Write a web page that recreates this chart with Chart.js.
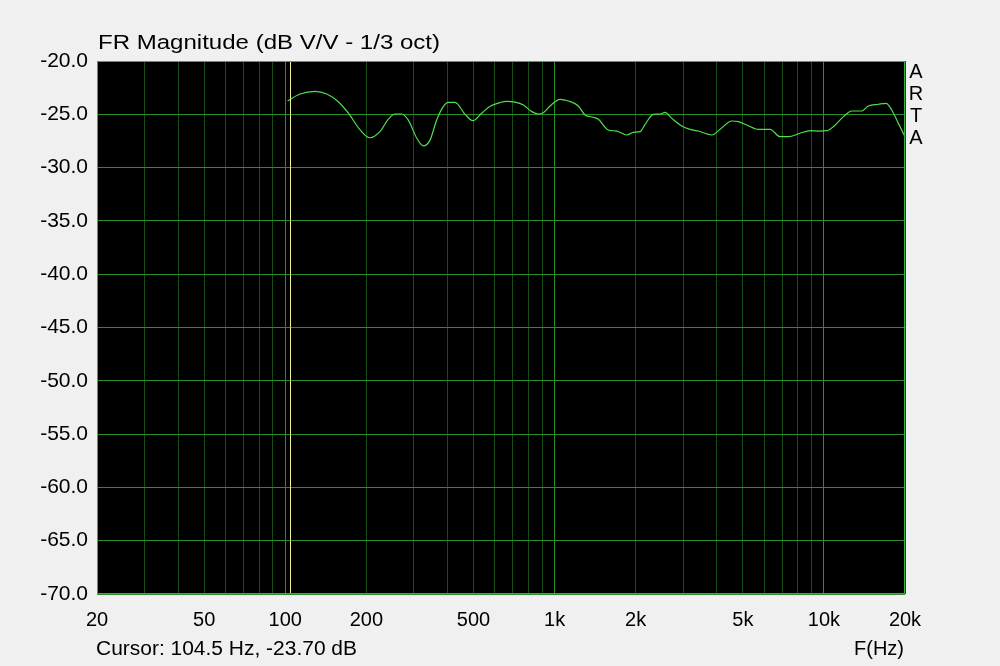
<!DOCTYPE html>
<html lang="en">
<head>
  <meta charset="UTF-8">
  <title>FR Magnitude</title>
  <script src="https://cdn.jsdelivr.net/npm/chart.js@4.4.1/dist/chart.umd.min.js"></script>
  <style>
    * { margin: 0; padding: 0; box-sizing: border-box; }
    body { background: #f0f0f0; width: 1000px; height: 666px; overflow: hidden; }
    #wrap { position: relative; width: 1000px; height: 666px; }
  </style>
</head>
<body>
  <div id="wrap"><canvas id="fr"></canvas></div>

  <script>
    // measured response, 1/3 octave smoothed
    const freqs = [102, 113.5, 129, 142.6, 157, 171.6, 189.7, 206, 225, 241, 255.8, 270.7, 286, 308, 325.6,
      345, 365, 386, 403, 427, 465, 497, 536, 576, 627, 664, 713, 766, 823, 871, 908, 962, 1048, 1125,
      1225, 1298, 1393, 1454, 1583, 1702, 1854, 1962, 2076, 2168, 2327, 2464, 2572, 2724, 2967, 3184,
      3420, 3835, 4116, 4548, 4812, 5170, 5712, 6310, 6874, 7380, 8156, 8886, 9538, 10248, 10840,
      11812, 12692, 13826, 14624, 15936, 17020, 17860, 18900, 20000];
    const magDb = [-23.75, -23.10, -22.85, -23.10, -23.80, -24.90, -26.47, -27.20, -26.60, -25.47, -24.97, -24.97, -25.53, -27.25, -27.97,
      -27.40, -25.53, -24.28, -23.88, -23.88, -25.00, -25.60, -24.90, -24.25, -23.90, -23.78, -23.85, -24.13, -24.75, -24.97,
      -24.85, -24.22, -23.60, -23.75, -24.22, -25.07, -25.28, -25.47, -26.47, -26.57, -26.94, -26.69, -26.63, -25.94, -25.00,
      -24.97, -24.82, -25.38, -26.10, -26.41, -26.57, -26.94, -26.41, -25.63, -25.69, -26.00, -26.41, -26.41, -27.10, -27.10,
      -26.78, -26.54, -26.57, -26.54, -26.16, -25.22, -24.69, -24.69, -24.22, -24.06, -23.97, -24.60, -25.85, -27.10];

    const xGridValues = [20, 30, 40, 50, 60, 70, 80, 90, 100, 200, 300, 400, 500, 600, 700, 800, 900,
      1000, 2000, 3000, 4000, 5000, 6000, 7000, 8000, 9000, 10000, 20000];
    const xLabelValues = [20, 50, 100, 200, 500, 1000, 2000, 5000, 10000, 20000];
    const xLabels = ['20', '50', '100', '200', '500', '1k', '2k', '5k', '10k', '20k'];
    const majorX = [100, 1000, 10000];

    const cursorHz = 104.5;
    const titleText = 'FR Magnitude (dB V/V - 1/3 oct)';
    const cursorText = 'Cursor: 104.5 Hz, -23.70 dB';
    const axisName = 'F(Hz)';
    const brand = ['A', 'R', 'T', 'A'];

    const FONT = '"Liberation Sans", Arial, sans-serif';

    // draw text stretched to a given width (the original uses a wider UI font)
    function fitText(ctx, txt, x, y, w) {
      const m = ctx.measureText(txt).width;
      ctx.save();
      ctx.translate(x, y);
      ctx.scale(w / m, 1);
      ctx.fillText(txt, 0, 0);
      ctx.restore();
    }

    const decor = {
      id: 'decor',
      beforeDraw(chart) {
        const { ctx, chartArea: a } = chart;
        ctx.save();
        ctx.fillStyle = '#000';
        ctx.fillRect(a.left, a.top, a.right - a.left, a.bottom - a.top);
        ctx.restore();
      },
      afterDatasetsDraw(chart) {
        const { ctx, chartArea: a, scales } = chart;
        ctx.save();
        // cursor
        const cx = Math.round(scales.x.getPixelForValue(cursorHz)) + 0.5;
        ctx.strokeStyle = '#f0f0a0';
        ctx.lineWidth = 1;
        ctx.beginPath();
        ctx.moveTo(cx, a.top);
        ctx.lineTo(cx, a.bottom);
        ctx.stroke();
        // frame
        ctx.strokeStyle = '#38b048';
        ctx.strokeRect(a.left + 0.5, a.top + 0.5, a.right - a.left - 1, a.bottom - a.top - 1);
        // texts
        ctx.fillStyle = '#000';
        ctx.textBaseline = 'alphabetic';
        ctx.textAlign = 'left';
        ctx.font = '20.5px ' + FONT;
        fitText(ctx, titleText, 98, 49, 342);
        ctx.font = '20px ' + FONT;
        fitText(ctx, cursorText, 96, 655, 261);
        ctx.textAlign = 'right';
        ctx.fillText(axisName, 904, 655);
        ctx.textAlign = 'center';
        ctx.textBaseline = 'middle';
        brand.forEach((ch, i) => ctx.fillText(ch, 916, 72 + i * 22.3));
        ctx.restore();
      }
    };

    new Chart(document.getElementById('fr'), {
      type: 'line',
      data: {
        datasets: [{
          data: freqs.map((f, i) => ({ x: f, y: magDb[i] })),
          borderColor: '#4ee04e',
          borderWidth: 1.2,
          pointRadius: 0,
          fill: false,
          tension: 0.35,
          cubicInterpolationMode: 'monotone'
        }]
      },
      options: {
        responsive: true,
        maintainAspectRatio: false,
        animation: false,
        events: [],
        layout: { padding: { top: 61, right: 95, left: 0, bottom: 0 } },
        plugins: { legend: { display: false }, tooltip: { enabled: false } },
        scales: {
          x: {
            type: 'logarithmic',
            min: 20,
            max: 20000,
            afterBuildTicks: s => { s.ticks = xGridValues.map(v => ({ value: v })); },
            afterFit: s => { s.height = 72; s.paddingLeft = 0; s.paddingRight = 0; },
            border: { display: false },
            grid: {
              drawTicks: false,
              color: c => majorX.includes(c.tick.value) ? '#2a8f2a' : '#164d16',
              lineWidth: 1
            },
            ticks: {
              autoSkip: false,
              maxRotation: 0,
              padding: 14,
              color: '#000',
              font: { family: FONT, size: 20 },
              callback: v => {
                const k = xLabelValues.indexOf(v);
                return k >= 0 ? xLabels[k] : '';
              }
            }
          },
          y: {
            min: -70,
            max: -20,
            afterFit: s => { s.width = 97; s.paddingTop = 0; s.paddingBottom = 0; },
            border: { display: false },
            grid: { drawTicks: false, color: '#2a8f2a', lineWidth: 1 },
            ticks: {
              stepSize: 5,
              padding: 9,
              color: '#000',
              font: { family: FONT, size: 21 },
              callback: v => v.toFixed(1)
            }
          }
        }
      },
      plugins: [decor]
    });
  </script>
</body>
</html>
